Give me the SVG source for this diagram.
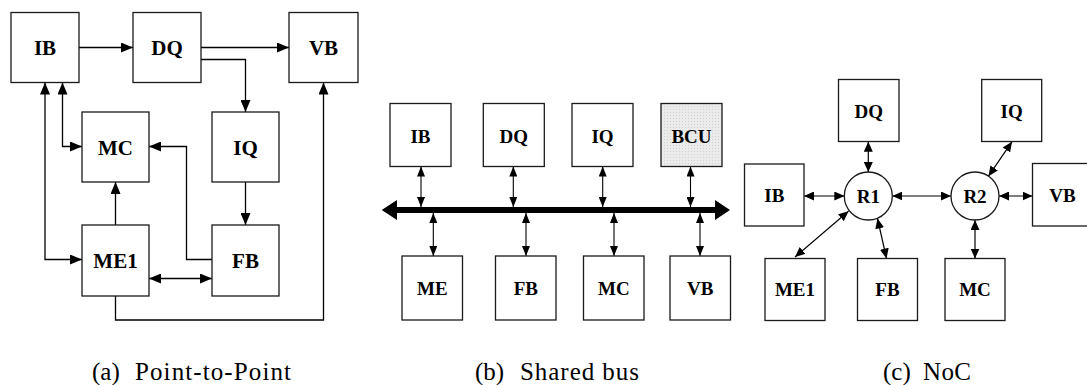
<svg xmlns="http://www.w3.org/2000/svg" width="1087" height="385" viewBox="0 0 1087 385">
  <style>
    .box { fill: #ffffff; stroke: #1a1a1a; stroke-width: 1.3; }
    .gray { fill: url(#dots); }
    text { font-family: 'Liberation Serif', 'Tinos', 'Times New Roman', Times, 'DejaVu Serif', serif; }
    .lbl { font-weight: bold; text-anchor: middle; fill: #000; }
    .la { font-size: 21px; }
    .lb { font-size: 19px; }
    .cap { font-size: 25px; fill: #000; }
    .wa { fill: none; stroke: #000; stroke-width: 1.3; marker-end: url(#ahA); }
    .wa2 { fill: none; stroke: #000; stroke-width: 1.3; marker-start: url(#ahA); marker-end: url(#ahA); }
    .wb { fill: none; stroke: #000; stroke-width: 1.1; marker-start: url(#ahB); marker-end: url(#ahB); }
    .wc { fill: none; stroke: #000; stroke-width: 1.2; marker-start: url(#ahC); marker-end: url(#ahC); }
  </style>
  <defs>
    <pattern id="dots" width="3" height="3" patternUnits="userSpaceOnUse">
      <rect width="3" height="3" fill="#ebebeb"/>
      <rect x="1" y="1" width="1" height="1" fill="#d2d2d2"/>
    </pattern>
    <marker id="ahA" viewBox="0 0 12 10" refX="12" refY="5" markerWidth="12" markerHeight="10" markerUnits="userSpaceOnUse" orient="auto-start-reverse">
      <path d="M0,0 L12,5 L0,10 z" fill="#000"/>
    </marker>
    <marker id="ahB" viewBox="0 0 10 8" refX="10" refY="4" markerWidth="10" markerHeight="8" markerUnits="userSpaceOnUse" orient="auto-start-reverse">
      <path d="M0,0 L10,4 L0,8 z" fill="#000"/>
    </marker>
    <marker id="ahC" viewBox="0 0 10 9" refX="10" refY="4.5" markerWidth="10" markerHeight="9" markerUnits="userSpaceOnUse" orient="auto-start-reverse">
      <path d="M0,0 L10,4.5 L0,9 z" fill="#000"/>
    </marker>
  </defs>

  <!-- Panel (a) Point-to-Point -->
  <g id="a-connectors">
    <path class="wa" d="M79,47.5 H133"/>
    <path class="wa" d="M201,47.5 H289"/>
    <path class="wa" d="M201,59.5 H245.5 V112"/>
    <path class="wa2" d="M45,82.5 V259.5 H82"/>
    <path class="wa2" d="M62.5,82.5 V146.5 H82"/>
    <path class="wa" d="M212,259.5 H186.5 V146.5 H149"/>
    <path class="wa" d="M115.5,225 V182"/>
    <path class="wa" d="M245.5,182 V225"/>
    <path class="wa2" d="M149,278.5 H212"/>
    <path class="wa" d="M115.5,296 V320 H323.5 V82.5"/>
  </g>
  <g id="a-IB"><rect class="box" x="11" y="12.5" width="68" height="70"/><text class="lbl la" x="45" y="55">IB</text></g>
  <g id="a-DQ"><rect class="box" x="133" y="12.5" width="68" height="70"/><text class="lbl la" x="167" y="55">DQ</text></g>
  <g id="a-VB"><rect class="box" x="289" y="12.5" width="69" height="70"/><text class="lbl la" x="323.5" y="55">VB</text></g>
  <g id="a-MC"><rect class="box" x="82" y="112" width="67" height="70"/><text class="lbl la" x="115.5" y="154.5">MC</text></g>
  <g id="a-IQ"><rect class="box" x="212" y="112" width="67" height="70"/><text class="lbl la" x="245.5" y="154.5">IQ</text></g>
  <g id="a-ME1"><rect class="box" x="82" y="225" width="67" height="71"/><text class="lbl la" x="115.5" y="268">ME1</text></g>
  <g id="a-FB"><rect class="box" x="212" y="225" width="67" height="71"/><text class="lbl la" x="245.5" y="268">FB</text></g>

  <!-- Panel (b) Shared bus -->
  <g id="b-connectors">
    <path d="M381.7,210 L397,200 L397,207 L715,207 L715,200 L730,210 L715,220 L715,213 L397,213 L397,220 Z" fill="#000"/>
    <path class="wb" d="M421,166.5 V207"/>
    <path class="wb" d="M513.3,166.5 V207"/>
    <path class="wb" d="M602.7,166.5 V207"/>
    <path class="wb" d="M690.5,166.5 V207"/>
    <path class="wb" d="M433.3,213 V256"/>
    <path class="wb" d="M526,213 V256"/>
    <path class="wb" d="M614,213 V256"/>
    <path class="wb" d="M700,213 V256"/>
  </g>
  <g id="b-IB"><rect class="box" x="390" y="103.5" width="61" height="63"/><text class="lbl lb" x="420.5" y="142.5">IB</text></g>
  <g id="b-DQ"><rect class="box" x="483.3" y="103.5" width="61" height="63"/><text class="lbl lb" x="513.8" y="142.5">DQ</text></g>
  <g id="b-IQ"><rect class="box" x="572" y="103.5" width="61" height="63"/><text class="lbl lb" x="602.5" y="142.5">IQ</text></g>
  <g id="b-BCU"><rect class="box gray" x="661" y="103.5" width="61" height="63"/><text class="lbl lb" x="691.5" y="142.5">BCU</text></g>
  <g id="b-ME"><rect class="box" x="402" y="256" width="60.5" height="64"/><text class="lbl lb" x="432.3" y="295">ME</text></g>
  <g id="b-FB"><rect class="box" x="495.5" y="256" width="60.5" height="64"/><text class="lbl lb" x="525.8" y="295">FB</text></g>
  <g id="b-MC"><rect class="box" x="583.5" y="256" width="60.5" height="64"/><text class="lbl lb" x="613.8" y="295">MC</text></g>
  <g id="b-VB"><rect class="box" x="670" y="256" width="60.5" height="64"/><text class="lbl lb" x="700.3" y="295">VB</text></g>

  <!-- Panel (c) NoC -->
  <g id="c-connectors">
    <path class="wc" d="M804,196 H844.3"/>
    <path class="wc" d="M868.3,141.7 V172"/>
    <path class="wc" d="M892.3,196 H951"/>
    <path class="wc" d="M999,196 H1032.5"/>
    <path class="wc" d="M975,220 V258.5"/>
    <path class="wc" d="M988.5,176.2 L1012,141.7"/>
    <path class="wc" d="M848.5,211.2 L795,257"/>
    <path class="wc" d="M877.5,218.5 L886.5,258.5"/>
  </g>
  <g id="c-DQ"><rect class="box" x="838.5" y="79.5" width="60.5" height="62"/><text class="lbl lb" x="868.8" y="117.5">DQ</text></g>
  <g id="c-IQ"><rect class="box" x="981.7" y="79.5" width="60" height="62"/><text class="lbl lb" x="1011.7" y="117.5">IQ</text></g>
  <g id="c-IB"><rect class="box" x="744.5" y="164" width="59.5" height="62"/><text class="lbl lb" x="774.3" y="202">IB</text></g>
  <g id="c-VB"><rect class="box" x="1032.5" y="163.5" width="60" height="62.5"/><text class="lbl lb" x="1062.5" y="202">VB</text></g>
  <g id="c-R1"><circle class="box" cx="868.3" cy="196" r="24"/><text class="lbl lb" x="868.3" y="202.5">R1</text></g>
  <g id="c-R2"><circle class="box" cx="975" cy="196" r="24"/><text class="lbl lb" x="975" y="202.5">R2</text></g>
  <g id="c-ME1"><rect class="box" x="765" y="258.5" width="60" height="62"/><text class="lbl lb" x="795" y="296">ME1</text></g>
  <g id="c-FB"><rect class="box" x="857.5" y="258.5" width="60" height="62"/><text class="lbl lb" x="887.5" y="296">FB</text></g>
  <g id="c-MC"><rect class="box" x="945" y="258.5" width="60" height="62"/><text class="lbl lb" x="975" y="296">MC</text></g>

  <!-- Captions -->
  <g id="captions">
    <text class="cap" x="92" y="380">(a)</text>
    <text class="cap" x="135" y="380" textLength="156" lengthAdjust="spacing">Point-to-Point</text>
    <text class="cap" x="475" y="380">(b)</text>
    <text class="cap" x="520" y="380" textLength="119" lengthAdjust="spacing">Shared bus</text>
    <text class="cap" x="883" y="380">(c)</text>
    <text class="cap" x="923" y="380" textLength="48" lengthAdjust="spacing">NoC</text>
  </g>
</svg>
